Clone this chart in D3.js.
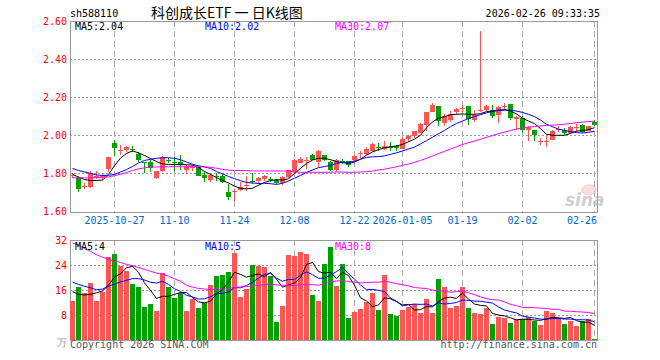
<!doctype html>
<html>
<head>
<meta charset="utf-8">
<style>
    body {
        margin: 0;
        background: #fff;
    }
    svg text {
        font-family: "DejaVu Sans Mono", monospace;
        font-size: 10px;
    }
    .title {
        font-family: "Noto Sans CJK SC", sans-serif;
        font-size: 14px;
    }
</style>
<script src="https://d3js.org/d3.v7.min.js"></script>
</head>
<body>
<div id="chart"></div>
<script>
    // trading days shown on the chart
    var dates = [
        "2025-10-16","2025-10-17","2025-10-20","2025-10-21","2025-10-22","2025-10-23","2025-10-24","2025-10-27","2025-10-28","2025-10-29","2025-10-30","2025-10-31",
        "2025-11-03","2025-11-04","2025-11-05","2025-11-06","2025-11-07","2025-11-10","2025-11-11","2025-11-12","2025-11-13","2025-11-14","2025-11-17","2025-11-18","2025-11-19","2025-11-20","2025-11-21","2025-11-24","2025-11-25","2025-11-26","2025-11-27","2025-11-28",
        "2025-12-01","2025-12-02","2025-12-03","2025-12-04","2025-12-05","2025-12-08","2025-12-09","2025-12-10","2025-12-11","2025-12-12","2025-12-15","2025-12-16","2025-12-17","2025-12-18","2025-12-19","2025-12-22","2025-12-23","2025-12-24","2025-12-25","2025-12-26","2025-12-29","2025-12-30","2025-12-31",
        "2026-01-05","2026-01-06","2026-01-07","2026-01-08","2026-01-09","2026-01-12","2026-01-13","2026-01-14","2026-01-15","2026-01-16","2026-01-19","2026-01-20","2026-01-21","2026-01-22","2026-01-23","2026-01-26","2026-01-27","2026-01-28","2026-01-29","2026-01-30",
        "2026-02-02","2026-02-03","2026-02-04","2026-02-05","2026-02-06","2026-02-09","2026-02-10","2026-02-11","2026-02-12","2026-02-13","2026-02-24","2026-02-25","2026-02-26"
    ];

    var open = [1.785,1.777,1.728,1.728,1.78,1.78,1.825,1.958,1.918,1.921, 1.928,1.904,1.858,1.859,1.778,1.812,1.87,1.862,1.86,1.816,
        1.83,1.833,1.793,1.767,1.786,1.784,1.702,1.70,1.711,1.732, 1.76,1.758,1.768,1.772,1.763,1.75,1.78,1.808,1.855,1.868,
        1.895,1.86,1.895,1.859,1.816,1.865,1.863,1.868,1.902,1.904, 1.917,1.94,1.93,1.94,1.942,1.93,1.98,1.995,2.014,2.053,
        2.123,2.153,2.067,2.08,2.123,2.138,2.153,2.08,2.126,2.135, 2.131,2.105,2.15,2.163,2.083,2.09,2.026,2.026,1.968,1.968,
        1.977,2.03,2.026,2.012,2.038,2.053,2.023,2.07];
    var high = [1.80,1.784,1.75,1.81,1.81,1.80,1.888,1.975,1.947,1.945, 1.945,1.912,1.86,1.872,1.815,1.89,1.882,1.886,1.896,1.842,
        1.845,1.84,1.807,1.80,1.80,1.80,1.745,1.72,1.754,1.784, 1.80,1.78,1.79,1.78,1.77,1.786,1.82,1.876,1.886,1.886,
        1.90,1.925,1.898,1.864,1.877,1.875,1.866,1.894,1.918,1.94, 1.96,1.957,1.97,1.965,1.95,1.99,2.003,2.025,2.067,2.123,
        2.172,2.155,2.11,2.125,2.145,2.158,2.155,2.135,2.547,2.158, 2.158,2.153,2.17,2.165,2.10,2.10,2.05,2.03,1.988,1.995,
        2.028,2.047,2.04,2.047,2.061,2.06,2.05,2.078];
    var low = [1.775,1.70,1.716,1.722,1.77,1.765,1.808,1.89,1.895,1.912, 1.91,1.858,1.80,1.807,1.77,1.808,1.853,1.81,1.82,1.80,
        1.815,1.785,1.755,1.755,1.76,1.75,1.66,1.655,1.708,1.71, 1.745,1.745,1.762,1.757,1.742,1.74,1.778,1.804,1.852,1.825,
        1.868,1.835,1.865,1.81,1.81,1.85,1.835,1.85,1.88,1.896, 1.91,1.92,1.925,1.92,1.918,1.928,1.965,1.985,2.01,2.02,
        2.12,2.05,2.05,2.07,2.113,2.12,2.056,2.07,2.12,2.13, 2.09,2.065,2.135,2.079,2.03,2.01,1.97,1.97,1.951,1.94,
        1.975,2.017,2.0,2.008,2.017,2.01,2.02,2.05];
    var close = [1.79,1.72,1.732,1.80,1.785,1.786,1.886,1.932,1.922,1.938, 1.924,1.868,1.855,1.826,1.812,1.884,1.866,1.858,1.845,1.838,
        1.835,1.788,1.776,1.789,1.782,1.755,1.675,1.705,1.728,1.738, 1.756,1.774,1.787,1.768,1.748,1.78,1.816,1.872,1.877,1.872,
        1.872,1.917,1.868,1.818,1.868,1.861,1.843,1.89,1.906,1.93, 1.953,1.936,1.942,1.936,1.932,1.983,1.996,2.02,2.061,2.12,
        2.158,2.074,2.10,2.11,2.136,2.142,2.084,2.105,2.134,2.152, 2.10,2.146,2.155,2.09,2.095,2.026,2.043,2.00,1.972,1.972,
        2.021,2.034,2.01,2.044,2.042,2.018,2.047,2.054];

    // moving average lines
    var ma5 = [1.797,1.78,1.768,1.763,1.763,1.765,1.795,1.84,1.88,1.905, 1.918,1.908,1.894,1.878,1.862,1.85,1.847,1.846,1.846,1.846,
        1.843,1.833,1.81,1.795,1.778,1.762,1.75,1.733,1.722,1.719, 1.722,1.738,1.752,1.762,1.767,1.765,1.772,1.80,1.826,1.852,
        1.87,1.88,1.879,1.872,1.862,1.857,1.852,1.86,1.875,1.896, 1.912,1.925,1.934,1.94,1.944,1.952,1.966,1.98,2.0,2.04,
        2.07,2.09,2.098,2.108,2.11,2.112,2.11,2.11,2.114,2.124, 2.128,2.132,2.135,2.128,2.112,2.09,2.075,2.061,2.035,2.006,
        2.0,2.0,2.0,2.01,2.022,2.025,2.03,2.04];
    var ma10 = [1.826,1.815,1.808,1.80,1.792,1.789,1.79,1.795,1.807,1.82, 1.836,1.855,1.868,1.874,1.879,1.882,1.882,1.879,1.872,1.86,
        1.848,1.84,1.834,1.826,1.81,1.798,1.784,1.772,1.762,1.752, 1.75,1.747,1.748,1.746,1.742,1.748,1.76,1.775,1.789,1.805,
        1.818,1.83,1.836,1.842,1.853,1.857,1.859,1.865,1.874,1.884, 1.887,1.888,1.892,1.90,1.908,1.918,1.928,1.938,1.955,1.972,
        1.99,2.008,2.026,2.045,2.062,2.075,2.088,2.098,2.108,2.118, 2.125,2.13,2.132,2.132,2.127,2.12,2.11,2.098,2.08,2.058,
        2.045,2.032,2.026,2.02,2.014,2.012,2.016,2.021];
    var ma30 = [1.777,1.777,1.777,1.777,1.778,1.779,1.782,1.788,1.795,1.805, 1.815,1.824,1.829,1.832,1.834,1.835,1.835,1.835,1.835,1.835,
        1.835,1.835,1.834,1.832,1.827,1.821,1.817,1.815,1.815,1.815, 1.813,1.813,1.813,1.813,1.813,1.813,1.812,1.807,1.806,1.806,
        1.806,1.806,1.806,1.806,1.808,1.807,1.806,1.806,1.807,1.809, 1.812,1.818,1.822,1.828,1.835,1.842,1.849,1.858,1.868,1.879,
        1.892,1.904,1.916,1.928,1.94,1.952,1.961,1.97,1.979,1.989, 1.999,2.008,2.017,2.025,2.033,2.039,2.043,2.046,2.049,2.051,
        2.053,2.056,2.058,2.062,2.066,2.069,2.072,2.074];

    // volume (万) and its averages
    var volume = [12.5,17.1,15.2,18.2,12.5,15.5,26.6,27.5,23.8,22.2, 17.9,17.1,10.6,11.5,9.4,21.5,16.9,13.5,14.9,9.4,
        13.1,10.3,11.7,17.6,20.6,20.8,21.7,27.8,13.9,16.3, 24,23.7,23.4,20.5,5.9,11,27.2,26.9,28.3,27.4,
        14.4,12.5,24.3,29.9,17.3,24.3,7.1,9.1,9.9,12.3, 15,9.5,20.8,8.3,7.8,9.6,10.7,11.5,8.8,13.1,
        8.7,19.5,17.1,10.3,10.9,17.1,10.3,8.7,8.3,10.3, 5.1,7.5,7.1,5.5,6.6,6.6,7.4,6.1,4.8,9.3,
        8.5,6.9,5.1,6.1,4.5,6.1,6.7,0.3];
    var vma5 = [15.5,14.6,14.4,14.6,15.1,15.7,17.6,20.1,21.2,23.1, 23.6,21.7,18.3,15.9,13.3,14.0,14.0,14.6,15.2,15.2,
        13.6,12.2,11.9,12.4,14.7,16.2,18.5,21.7,21.0,20.1, 20.7,21.1,20.3,21.6,19.5,16.9,17.6,18.3,19.9,24.2,
        24.8,21.9,21.4,21.7,19.7,21.7,20.6,17.5,13.5,12.5, 10.7,11.2,13.5,13.2,12.3,11.2,11.4,9.6,9.7,10.7,
        10.6,12.3,13.4,13.7,13.3,15.0,13.1,11.5,11.1,10.9, 8.5,8.0,7.7,7.1,6.4,6.7,6.6,6.4,6.3,6.8,
        7.2,7.1,6.9,7.2,6.2,5.7,5.7,4.7];
    var vma10 = [18.5,17.8,17.2,16.7,16.1,16.3,17.2,17.9,18.6,19.1, 19.65,19.65,19.2,18.5,18.2,18.8,17.8,16.4,15.55,14.3,
        13.8,13.1,13.2,13.8,14.95,14.9,15.4,16.8,16.7,17.4, 18.5,19.8,21.0,21.3,19.8,18.8,19.4,19.3,20.7,21.8,
        20.9,19.75,19.8,20.8,21.9,23.25,21.2,19.5,17.6,16.1, 16.2,15.9,15.5,13.4,12.4,10.9,11.3,11.5,11.4,11.5,
        10.9,11.9,11.5,11.7,12.0,12.8,12.7,12.45,12.4,12.1, 11.8,10.6,9.6,9.1,8.65,7.6,7.3,7.05,6.7,6.6,
        6.9,6.9,6.7,6.7,6.5,6.5,6.4,5.8];
    var vma30 = [31,30.4,29.3,28.4,27.3,26.5,25.8,25.3,24.8,24.2, 23.8,23.2,22.6,22.0,21.4,21.1,20.4,19.6,18.8,17.5,
        16.9,16.5,16.3,16.2,16.2,16.3,16.5,16.8,17.0,17.1, 17.3,17.5,17.8,17.9,17.65,17.5,17.5,17.5,17.65,17.8,
        17.7,17.55,18.0,18.6,18.9,19.0,18.7,18.5,18.3,18.4, 18.5,18.5,18.8,18.5,18.0,17.7,17.3,16.8,16.6,16.5,
        16.0,15.8,15.6,15.3,15.45,15.65,15.1,14.5,13.8,13.25, 12.9,12.8,12.2,11.4,11.0,10.4,10.45,10.35,10.2,10.1,
        9.85,9.8,9.25,9.2,9.05,8.95,8.8,8.45];

    var tickDates = ["2025-10-27","2025-11-10","2025-11-24","2025-12-08","2025-12-22","2026-01-05","2026-01-19","2026-02-02","2026-02-26"];
    var tickLabels = ["2025-10-27","11-10","11-24","12-08","12-22","2026-01-05","01-19","02-02","02-26"];
    var priceTicks = [1.60, 1.80, 2.00, 2.20, 2.40, 2.60];
    var volTicks = [8, 16, 24, 32];

    var upColor = "#ff5555", downColor = "#00a000";
    var left = 70, right = 597;

    var svg = d3.select("#chart").append("svg")
        .attr("width", 660)
        .attr("height", 360)
        .style("display", "block");

    var rows = dates.map(function(d, i) {
        return {date: d, o: open[i], h: high[i], l: low[i], c: close[i], v: volume[i]};
    });

    var x = d3.scaleBand().domain(dates).range([70, 598]).padding(0);
    function cx(d) { return x(d) + 2.5; }

    var y = d3.scaleLinear().domain([1.60, 2.60]).range([211.5, 21]);
    var yv = d3.scaleLinear().domain([0, 32]).range([340, 240]);

    // header
    svg.append("text").attr("x", 70).attr("y", 17).text("sh588110");
    svg.append("text").attr("class", "title").attr("x", 151).attr("y", 18).text("科创成长ETF 一 日K线图");
    svg.append("text").attr("x", 600).attr("y", 17).attr("text-anchor", "end").text("2026-02-26 09:33:35");

    function panel(top, bottom, ticks, scale, fmt) {
        var g = svg.append("g");
        // dotted horizontal grid
        g.selectAll(".hgrid")
            .data(ticks.filter(function(t) { return scale(t) > top + 1 && scale(t) < bottom - 1; }))
            .enter().append("line")
            .attr("x1", left).attr("x2", right)
            .attr("y1", function(t) { return Math.round(scale(t)) + 0.5; })
            .attr("y2", function(t) { return Math.round(scale(t)) + 0.5; })
            .attr("stroke", "#999").attr("stroke-dasharray", "2,2");
        // dashed vertical lines at date ticks
        g.selectAll(".vgrid")
            .data(tickDates)
            .enter().append("line")
            .attr("x1", cx).attr("x2", cx)
            .attr("y1", top).attr("y2", bottom)
            .attr("stroke", "#aaa").attr("stroke-dasharray", "6,4");
        g.append("rect")
            .attr("x", left + 0.5).attr("y", top + 0.5)
            .attr("width", right - left).attr("height", bottom - top)
            .attr("fill", "none").attr("stroke", "#999");
        g.selectAll(".lab")
            .data(ticks)
            .enter().append("text")
            .attr("x", 67).attr("y", function(t) { return scale(t); })
            .attr("dy", "0.36em")
            .attr("text-anchor", "end")
            .attr("fill", "red")
            .text(fmt);
        return g;
    }

    panel(21, 212, priceTicks, y, function(t) { return t.toFixed(2); });
    panel(240, 340, volTicks, yv, function(t) { return t; });

    // candles
    var candles = svg.append("g").attr("shape-rendering", "crispEdges");
    candles.selectAll(".wick")
        .data(rows).enter().append("line")
        .attr("x1", function(d) { return cx(d.date); })
        .attr("x2", function(d) { return cx(d.date); })
        .attr("y1", function(d) { return y(d.h); })
        .attr("y2", function(d) { return y(d.l); })
        .attr("stroke", function(d) { return d.c >= d.o ? upColor : downColor; });
    candles.selectAll(".body")
        .data(rows).enter().append("rect")
        .attr("x", function(d) { return x(d.date); })
        .attr("width", 5)
        .attr("y", function(d) { return Math.min(y(d.o), y(d.c)); })
        .attr("height", function(d) { return Math.max(1, Math.abs(y(d.o) - y(d.c))); })
        .attr("fill", function(d) { return d.c >= d.o ? upColor : downColor; });

    // volume bars
    svg.append("g").attr("shape-rendering", "crispEdges")
        .selectAll("rect")
        .data(rows).enter().append("rect")
        .attr("x", function(d) { return x(d.date); })
        .attr("width", 5)
        .attr("y", function(d) { return yv(d.v); })
        .attr("height", function(d) { return 340 - yv(d.v); })
        .attr("fill", function(d) { return d.c >= d.o ? upColor : downColor; });

    function maLine(values, scale, color) {
        var line = d3.line()
            .x(function(v, i) { return cx(dates[i]); })
            .y(function(v) { return scale(v); });
        svg.append("path")
            .datum(values)
            .attr("d", line)
            .attr("fill", "none")
            .attr("stroke", color)
            .attr("stroke-width", 1);
    }
    maLine(ma5, y, "#000");
    maLine(ma10, y, "#0000ff");
    maLine(ma30, y, "#ff00ff");
    maLine(vma5, yv, "#000");
    maLine(vma10, yv, "#0000ff");
    maLine(vma30, yv, "#ff00ff");

    // MA legends
    svg.append("text").attr("x", 75).attr("y", 30).attr("fill", "#000").text("MA5:2.04");
    svg.append("text").attr("x", 205).attr("y", 30).attr("fill", "#0000ff").text("MA10:2.02");
    svg.append("text").attr("x", 335).attr("y", 30).attr("fill", "#ff00ff").text("MA30:2.07");
    svg.append("text").attr("x", 75).attr("y", 250).attr("fill", "#000").text("MA5:4");
    svg.append("text").attr("x", 205).attr("y", 250).attr("fill", "#0000ff").text("MA10:5");
    svg.append("text").attr("x", 335).attr("y", 250).attr("fill", "#ff00ff").text("MA30:8");

    // date labels under the price panel
    svg.selectAll(".xlab")
        .data(tickDates).enter().append("text")
        .attr("x", function(d) { return Math.min(cx(d), right - 15); })
        .attr("y", 224)
        .attr("text-anchor", "middle")
        .attr("fill", "#0066cc")
        .text(function(d, i) { return tickLabels[i]; });

    // unit + footer
    svg.append("text").attr("x", 67).attr("y", 346).attr("text-anchor", "end").attr("fill", "#999").text("万");
    svg.append("text").attr("x", 70).attr("y", 348).attr("fill", "#555").text("Copyright 2026 SINA.COM");
    svg.append("text").attr("x", 597).attr("y", 348).attr("text-anchor", "end").attr("fill", "#555").text("http://finance.sina.com.cn");

    // faint sina watermark
    var wm = svg.append("g").attr("opacity", 0.55);
    wm.append("ellipse").attr("cx", 589).attr("cy", 190).attr("rx", 7).attr("ry", 5)
        .attr("fill", "#f7c4c4").attr("stroke", "#f09a9a");
    wm.append("text").attr("x", 565).attr("y", 206)
        .style("font-family", "DejaVu Sans").style("font-size", "17px")
        .style("font-style", "italic").style("font-weight", "bold")
        .attr("fill", "#aaa").text("sina");
</script>
</body>
</html>
